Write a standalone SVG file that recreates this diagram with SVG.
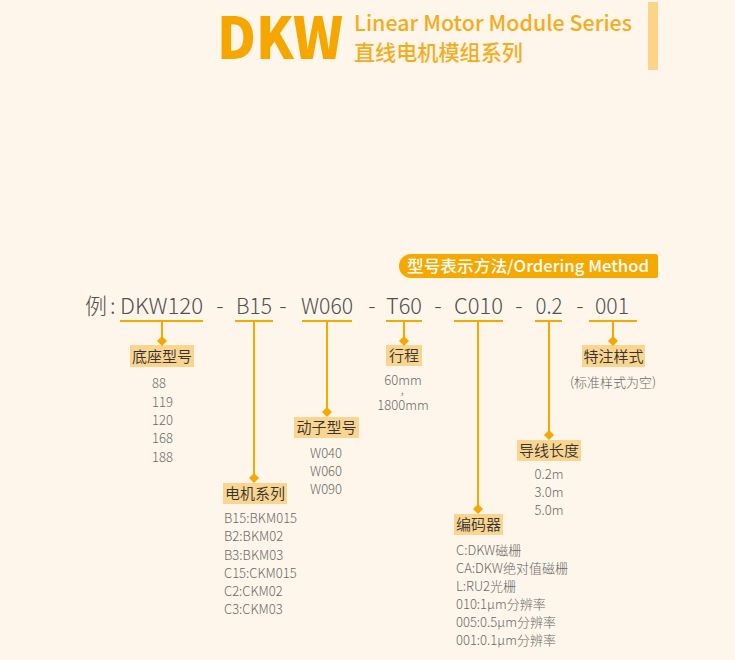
<svg xmlns="http://www.w3.org/2000/svg" width="735" height="660" viewBox="0 0 735 660">
<style>
.bg{fill:#FEF6EA}
.code{font-family:"Noto Sans CJK SC","Noto Sans",sans-serif;font-weight:300;font-size:22px;fill:#505050;text-anchor:middle}
.ul{stroke:#F5A800;stroke-width:2}
.ln{stroke:#F5A800;stroke-width:2;fill:none}
.dm{fill:#F5A800}
.box{fill:#FAD590}
.lbl{font-family:"Noto Sans CJK SC","Noto Sans",sans-serif;font-weight:350;font-size:15px;fill:#333;text-anchor:middle}
.val{font-family:"Noto Sans CJK SC","Noto Sans",sans-serif;font-weight:300;font-size:13px;fill:#6a6a6a}
.mid{text-anchor:middle}
</style>
<defs>
<path id="dia" d="M0,-5 L5,0 L0,5 L-5,0 Z"/>
</defs>
<rect class="bg" x="0" y="0" width="735" height="660"/>

<g id="header">
<text x="217" y="59" font-family="'Noto Sans CJK SC','Noto Sans',sans-serif" font-weight="900" font-size="58" fill="#F5A700" textLength="126" lengthAdjust="spacingAndGlyphs">DKW</text>
<text x="354" y="31" font-family="'Noto Sans CJK SC','Noto Sans',sans-serif" font-weight="500" font-size="21" fill="#F5AC1C" textLength="278" lengthAdjust="spacingAndGlyphs">Linear Motor Module Series</text>
<text x="354" y="60" font-family="'Noto Sans CJK SC',sans-serif" font-weight="500" font-size="21" fill="#F5AC1C" textLength="169" lengthAdjust="spacingAndGlyphs">直线电机模组系列</text>
<rect x="648" y="2" width="10" height="68" fill="#FBD489"/>
</g>

<g id="ordering-method">
<path d="M411,254 H656 Q658,254 658,256 V276 Q658,278 656,278 H411 A12,12 0 0 1 411,254 Z" fill="#F5A800"/>
<text x="528" y="271.5" text-anchor="middle" font-family="'Noto Sans CJK SC','Noto Sans',sans-serif" font-weight="500" font-size="16" fill="#FFFFFF" textLength="242" lengthAdjust="spacingAndGlyphs">型号表示方法/Ordering Method</text>
</g>

<g id="example-code">
<text x="85" y="314" font-family="'Noto Sans CJK SC',sans-serif" font-weight="300" font-size="22" fill="#505050">例</text>
<text x="110" y="314" font-family="'Noto Sans CJK SC',sans-serif" font-weight="300" font-size="22" fill="#505050">:</text>
<text class="code" x="220" y="314">-</text>
<text class="code" x="283" y="314">-</text>
<text class="code" x="372" y="314">-</text>
<text class="code" x="438" y="314">-</text>
<text class="code" x="519" y="314">-</text>
<text class="code" x="580" y="314">-</text>
</g>

<g id="node-base">
<text class="code" x="161.5" y="314" textLength="83" lengthAdjust="spacingAndGlyphs">DKW120</text>
<line class="ul" x1="120" y1="321" x2="203" y2="321"/>
<rect class="box" x="130" y="345" width="64" height="22"/>
<text class="lbl" x="162" y="361.5">底座型号</text>
<text class="val" x="152" y="388">88</text>
<text class="val" x="152" y="407">119</text>
<text class="val" x="152" y="425">120</text>
<text class="val" x="152" y="443">168</text>
<text class="val" x="152" y="462">188</text>
</g>

<g id="node-motor">
<text class="code" x="254" y="314" textLength="36" lengthAdjust="spacingAndGlyphs">B15</text>
<line class="ul" x1="235" y1="321" x2="273" y2="321"/>
<rect class="box" x="223" y="483" width="64" height="21"/>
<text class="lbl" x="255" y="499">电机系列</text>
<text class="val" x="224" y="523">B15:BKM015</text>
<text class="val" x="224" y="541">B2:BKM02</text>
<text class="val" x="224" y="560">B3:BKM03</text>
<text class="val" x="224" y="578">C15:CKM015</text>
<text class="val" x="224" y="596">C2:CKM02</text>
<text class="val" x="224" y="614">C3:CKM03</text>
</g>

<g id="node-mover">
<text class="code" x="327" y="314" textLength="52" lengthAdjust="spacingAndGlyphs">W060</text>
<line class="ul" x1="302" y1="321" x2="352" y2="321"/>
<rect class="box" x="294" y="417" width="65" height="21"/>
<text class="lbl" x="326.5" y="433">动子型号</text>
<text class="val" x="310" y="458">W040</text>
<text class="val" x="310" y="476">W060</text>
<text class="val" x="310" y="494">W090</text>
</g>

<g id="node-stroke">
<text class="code" x="404" y="314" textLength="36" lengthAdjust="spacingAndGlyphs">T60</text>
<line class="ul" x1="386" y1="321" x2="422" y2="321"/>
<rect class="box" x="386" y="345" width="36" height="21"/>
<text class="lbl" x="404" y="361">行程</text>
<text class="val mid" x="403" y="385">60mm</text>
<text class="val mid" x="402" y="394" font-size="7">,</text>
<text class="val mid" x="403" y="410">1800mm</text>
</g>

<g id="node-encoder">
<text class="code" x="478.5" y="314" textLength="49" lengthAdjust="spacingAndGlyphs">C010</text>
<line class="ul" x1="454" y1="321" x2="503" y2="321"/>
<rect class="box" x="454" y="514" width="49" height="21"/>
<text class="lbl" x="478.5" y="530">编码器</text>
<text class="val" x="456" y="555">C:DKW磁栅</text>
<text class="val" x="456" y="573">CA:DKW绝对值磁栅</text>
<text class="val" x="456" y="591">L:RU2光栅</text>
<text class="val" x="456" y="609">010:1μm分辨率</text>
<text class="val" x="456" y="627">005:0.5μm分辨率</text>
<text class="val" x="456" y="645">001:0.1μm分辨率</text>
</g>

<g id="node-cable">
<text class="code" x="549" y="314" textLength="27" lengthAdjust="spacingAndGlyphs">0.2</text>
<line class="ul" x1="535" y1="321" x2="562" y2="321"/>
<rect class="box" x="517" y="440" width="64" height="21"/>
<text class="lbl" x="549" y="456">导线长度</text>
<text class="val mid" x="549" y="479">0.2m</text>
<text class="val mid" x="549" y="497">3.0m</text>
<text class="val mid" x="549" y="515">5.0m</text>
</g>

<g id="node-special">
<text class="code" x="612" y="314" textLength="34" lengthAdjust="spacingAndGlyphs">001</text>
<line class="ul" x1="589" y1="321" x2="637" y2="321"/>
<rect class="box" x="582" y="345" width="63" height="22"/>
<text class="lbl" x="613.5" y="361.5">特注样式</text>
<text class="val mid" x="613" y="387">(标准样式为空)</text>
</g>

<g id="connectors">
<line class="ln" x1="162" y1="322" x2="162" y2="341"/>
<use href="#dia" class="dm" x="162" y="341"/>
<line class="ln" x1="254" y1="322" x2="254" y2="478"/>
<use href="#dia" class="dm" x="254" y="478"/>
<line class="ln" x1="327" y1="322" x2="327" y2="412"/>
<use href="#dia" class="dm" x="327" y="412"/>
<line class="ln" x1="404" y1="322" x2="404" y2="341"/>
<use href="#dia" class="dm" x="404" y="341"/>
<line class="ln" x1="478" y1="322" x2="478" y2="509"/>
<use href="#dia" class="dm" x="478" y="509"/>
<line class="ln" x1="549" y1="322" x2="549" y2="435"/>
<use href="#dia" class="dm" x="549" y="435"/>
<line class="ln" x1="613" y1="322" x2="613" y2="341"/>
<use href="#dia" class="dm" x="613" y="341"/>
</g>
</svg>
